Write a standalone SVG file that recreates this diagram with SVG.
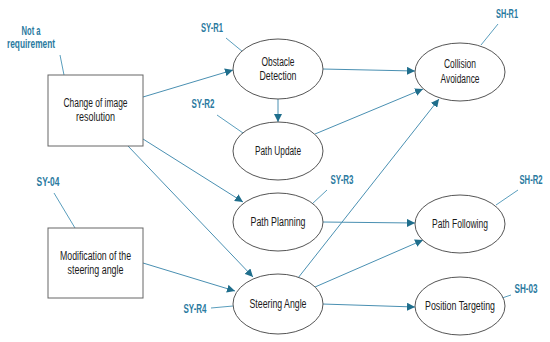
<svg xmlns="http://www.w3.org/2000/svg" width="550" height="342" viewBox="0 0 550 342">
<style>
.box{fill:#fff;stroke:#666;stroke-width:1}
.ell{fill:#fff;stroke:#555;stroke-width:1}
.t{font-family:"Liberation Sans",Arial,sans-serif;font-size:12px;fill:#1a1a1a;text-anchor:middle}
.lab{font-family:"Liberation Sans",Arial,sans-serif;font-size:12px;font-weight:bold;fill:#2a7aa0;text-anchor:middle}
.lead{stroke:#5a9ebd;stroke-width:1;fill:none}
.arr{stroke:#4a90b2;stroke-width:1;fill:none;marker-end:url(#ah)}
</style>
<defs>
<marker id="ah" viewBox="0 0 10 10" refX="10" refY="5" markerWidth="8" markerHeight="8" markerUnits="userSpaceOnUse" orient="auto">
<path d="M0,0 L10,5 L0,10 z" fill="#1f6e8c"/>
</marker>
</defs>
<rect width="550" height="342" fill="#fff"/>
<g id="connectors">
<line class="arr" x1="143" y1="97" x2="233" y2="70"/>
<line class="arr" x1="143" y1="139" x2="243" y2="202"/>
<line class="arr" x1="128" y1="146" x2="253" y2="277"/>
<line class="arr" x1="143" y1="263" x2="235" y2="291"/>
<line class="arr" x1="278" y1="99" x2="278" y2="122"/>
<line class="arr" x1="322" y1="69" x2="415" y2="71"/>
<line class="arr" x1="315" y1="134" x2="423" y2="89"/>
<line class="arr" x1="298" y1="278" x2="439" y2="99"/>
<line class="arr" x1="322" y1="222" x2="415" y2="223"/>
<line class="arr" x1="315" y1="287" x2="423" y2="240"/>
<line class="arr" x1="322" y1="304" x2="415" y2="307"/>
</g>
<g id="leaders">
<line class="lead" x1="60" y1="55" x2="64" y2="75"/>
<line class="lead" x1="226" y1="38" x2="243" y2="52"/>
<line class="lead" x1="217" y1="115" x2="243" y2="133"/>
<line class="lead" x1="498" y1="24" x2="481" y2="45"/>
<line class="lead" x1="54" y1="193" x2="75" y2="228"/>
<line class="lead" x1="211" y1="308" x2="233" y2="306"/>
<line class="lead" x1="327" y1="190" x2="312" y2="204"/>
<line class="lead" x1="518" y1="190" x2="496" y2="205"/>
<line class="lead" x1="511" y1="295" x2="502" y2="298"/>
</g>
<g id="labels">
<text class="lab" x="31" y="35" textLength="19" lengthAdjust="spacingAndGlyphs">Not a</text>
<text class="lab" x="31" y="48" textLength="48" lengthAdjust="spacingAndGlyphs">requirement</text>
<text class="lab" x="212" y="32" textLength="22" lengthAdjust="spacingAndGlyphs">SY-R1</text>
<text class="lab" x="203" y="108" textLength="23" lengthAdjust="spacingAndGlyphs">SY-R2</text>
<text class="lab" x="507" y="18" textLength="22" lengthAdjust="spacingAndGlyphs">SH-R1</text>
<text class="lab" x="48" y="186" textLength="23" lengthAdjust="spacingAndGlyphs">SY-04</text>
<text class="lab" x="195" y="313" textLength="23" lengthAdjust="spacingAndGlyphs">SY-R4</text>
<text class="lab" x="342" y="184" textLength="23" lengthAdjust="spacingAndGlyphs">SY-R3</text>
<text class="lab" x="531" y="184" textLength="23" lengthAdjust="spacingAndGlyphs">SH-R2</text>
<text class="lab" x="526" y="293" textLength="23" lengthAdjust="spacingAndGlyphs">SH-03</text>
</g>
<g id="change-image-resolution">
<rect class="box" x="48" y="75" width="95" height="71"/>
<text class="t" x="95.5" y="107" textLength="64" lengthAdjust="spacingAndGlyphs">Change of image</text>
<text class="t" x="95.5" y="121" textLength="39" lengthAdjust="spacingAndGlyphs">resolution</text>
</g>
<g id="modification-steering-angle">
<rect class="box" x="48" y="228" width="95" height="70"/>
<text class="t" x="95.5" y="260" textLength="71" lengthAdjust="spacingAndGlyphs">Modification of the</text>
<text class="t" x="95.5" y="274" textLength="56" lengthAdjust="spacingAndGlyphs">steering angle</text>
</g>
<g id="obstacle-detection">
<ellipse class="ell" cx="278" cy="69" rx="45" ry="30"/>
<text class="t" x="278" y="66" textLength="33" lengthAdjust="spacingAndGlyphs">Obstacle</text>
<text class="t" x="278" y="80" textLength="37" lengthAdjust="spacingAndGlyphs">Detection</text>
</g>
<g id="path-update">
<ellipse class="ell" cx="278" cy="151" rx="45" ry="29"/>
<text class="t" x="278" y="155" textLength="46" lengthAdjust="spacingAndGlyphs">Path Update</text>
</g>
<g id="path-planning">
<ellipse class="ell" cx="278" cy="222" rx="45" ry="29"/>
<text class="t" x="278" y="226" textLength="55" lengthAdjust="spacingAndGlyphs">Path Planning</text>
</g>
<g id="steering-angle">
<ellipse class="ell" cx="278" cy="304" rx="45" ry="30"/>
<text class="t" x="278" y="308" textLength="57" lengthAdjust="spacingAndGlyphs">Steering Angle</text>
</g>
<g id="collision-avoidance">
<ellipse class="ell" cx="460" cy="72" rx="45" ry="29"/>
<text class="t" x="460" y="68" textLength="32" lengthAdjust="spacingAndGlyphs">Collision</text>
<text class="t" x="460" y="83" textLength="39" lengthAdjust="spacingAndGlyphs">Avoidance</text>
</g>
<g id="path-following">
<ellipse class="ell" cx="460" cy="224" rx="45" ry="29"/>
<text class="t" x="460" y="228" textLength="56" lengthAdjust="spacingAndGlyphs">Path Following</text>
</g>
<g id="position-targeting">
<ellipse class="ell" cx="460" cy="306" rx="45" ry="29"/>
<text class="t" x="460" y="310" textLength="70" lengthAdjust="spacingAndGlyphs">Position Targeting</text>
</g>
</svg>
